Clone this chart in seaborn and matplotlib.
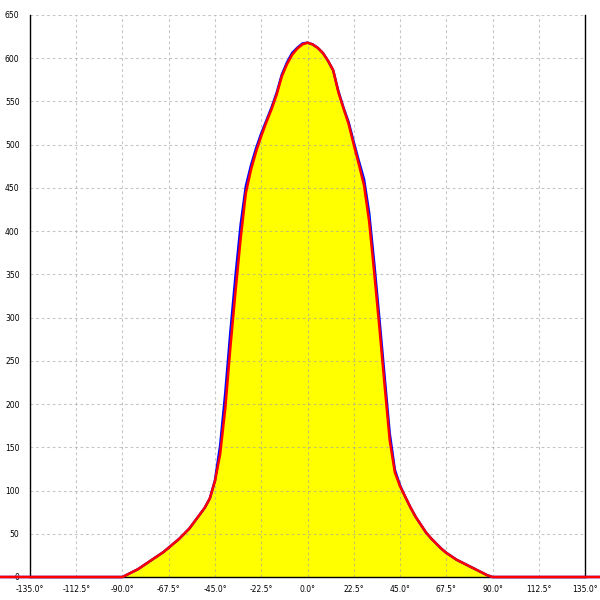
import numpy as np
import pandas as pd
import matplotlib
matplotlib.use("Agg")
import matplotlib.pyplot as plt
import seaborn as sns

# ---- data -------------------------------------------------------------
angles = [-180, -90, -87.5, -85, -82.5, -80, -77.5, -75, -72.5, -70, -67.5, -65, -62.5,
          -60, -57.5, -55, -52.5, -50, -47.5, -45, -42.5, -40, -37.5, -35, -32.5,
          -30, -27.5, -25, -22.5, -20, -17.5, -15, -12.5, -10, -7.5, -5, -2.5,
          0, 2.5, 5, 7.5, 10, 12.5, 15, 17.5, 20, 22.5, 25, 27.5, 30, 32.5, 35,
          37.5, 40, 42.5, 45, 47.5, 50, 52.5, 55, 57.5, 60, 62.5, 65, 67.5, 70,
          72.5, 75, 77.5, 80, 82.5, 85, 87.5, 90, 180]

red_values = [0, 0, 3, 6, 9, 13, 17, 21, 25, 29, 34, 39, 44,
              50, 56, 64, 72, 80, 91, 111, 142, 195, 266, 331, 392,
              444, 471, 492, 510, 526, 541, 558, 579, 593, 604, 611, 616,
              618, 616, 612, 606, 597, 586, 561, 542, 524, 500, 477, 453, 411, 351, 288,
              222, 158, 121, 105, 93, 81, 70, 61, 52, 45, 39, 33, 28, 24,
              20, 17, 14, 11, 8, 5, 2, 0, 0]

blue_values = [0, 0, 3, 6, 9, 13, 17, 21, 25, 29, 34, 39, 44,
               50, 56, 64, 72, 80, 91, 112, 152, 213, 284, 349, 408,
               452, 476, 496, 513, 528, 543, 560, 581, 595, 606, 612, 617,
               618, 616, 612, 606, 597, 586, 562, 543, 526, 503, 481, 460, 421, 362, 298,
               232, 166, 124, 106, 93, 81, 70, 61, 52, 45, 39, 33, 28, 24,
               20, 17, 14, 11, 8, 5, 2, 0, 0]

x_ticks = [-135.0, -112.5, -90.0, -67.5, -45.0, -22.5, 0.0, 22.5, 45.0, 67.5, 90.0, 112.5, 135.0]
y_ticks = [0, 50, 100, 150, 200, 250, 300, 350, 400, 450, 500, 550, 600, 650]

df = pd.DataFrame({"angle": angles, "red": red_values, "blue": blue_values})

# ---- figure -----------------------------------------------------------
sns.set_style("white")
plt.rcParams["font.family"] = ["DejaVu Sans"]

fig = plt.figure(figsize=(6, 6), dpi=100)
ax = fig.add_axes([30 / 600, 23 / 600, 555 / 600, 562 / 600])

ax.fill_between(df["angle"], 0, df["red"], color="#ffff00", zorder=1, linewidth=0)

sns.lineplot(data=df, x="angle", y="blue", ax=ax, color="#0000ff", linewidth=1.8,
             zorder=4, clip_on=False, sort=False)
sns.lineplot(data=df, x="angle", y="red", ax=ax, color="#ff0000", linewidth=1.8,
             zorder=5, clip_on=False, sort=False)

ax.set_xlim(-135, 135)
ax.set_ylim(0, 650)

ax.set_xticks(x_ticks)
ax.set_xticklabels([f"{t:.1f}°" for t in x_ticks])
ax.set_yticks(y_ticks)
ax.set_yticklabels([str(t) for t in y_ticks])

ax.grid(True, color="#a0a0a0", alpha=0.6, linestyle=(0, (2.5, 2.5)), linewidth=0.8, zorder=2)
ax.set_axisbelow(False)

ax.spines["top"].set_visible(False)
for side in ["left", "right", "bottom"]:
    ax.spines[side].set_visible(True)
    ax.spines[side].set_color("black")
    ax.spines[side].set_linewidth(1.0)
    ax.spines[side].set_zorder(3)

ax.tick_params(axis="both", direction="inout", length=9, width=1, color="black",
               labelsize=5.5, labelcolor="black")
ax.tick_params(axis="x", pad=1)
ax.tick_params(axis="y", pad=3)
ax.set_xlabel("")
ax.set_ylabel("")
ax.patch.set_alpha(0)

fig.savefig("out.png", dpi=100)
